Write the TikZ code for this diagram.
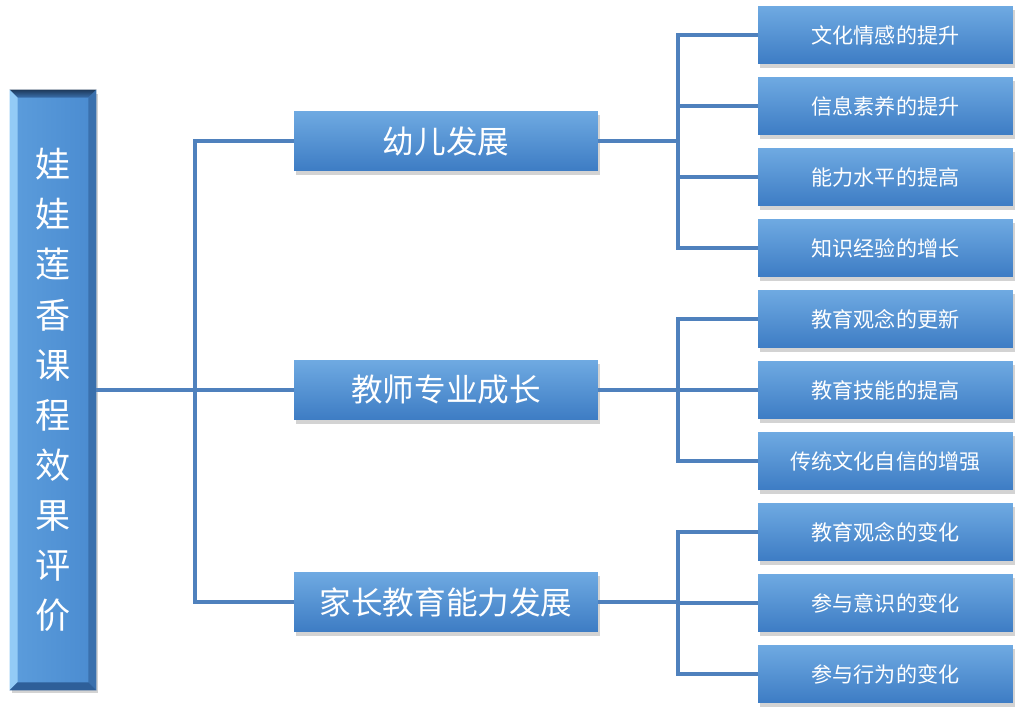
\documentclass[tikz,border=0pt]{standalone}
\usepackage{fontspec}
\newfontfamily\cjk{Noto Sans CJK SC}
\usetikzlibrary{positioning, calc, shadows}
\definecolor{BoxTop}{HTML}{6FAAE2}
\definecolor{BoxBottom}{HTML}{3D7CC4}
\definecolor{LinkBlue}{HTML}{4F81BD}
\definecolor{FaceLeft}{HTML}{5C9DDC}
\definecolor{FaceRight}{HTML}{4A8BD0}
\definecolor{BevelDark}{HTML}{1E3A5C}
\definecolor{BevelLight}{HTML}{93CBF6}
\definecolor{BevelSide}{HTML}{3A70AD}
\definecolor{BevelBottom}{HTML}{2E5F99}

\begin{document}
\begin{tikzpicture}[x=0.02cm, y=0.02cm,
  leafbox/.style={minimum width=5.1cm, minimum height=1.16cm, inner sep=0pt,
    top color=BoxTop, bottom color=BoxBottom, text=white,
    font=\cjk\fontsize{12}{14}\selectfont,
    drop shadow={shadow xshift=1pt, shadow yshift=-2pt, opacity=0.35}},
  midbox/.style={leafbox, minimum width=6.08cm, minimum height=1.2cm,
    font=\cjk\fontsize{18}{20}\selectfont},
  rootbox/.style={minimum width=1.72cm, minimum height=12cm, inner sep=0pt,
    left color=FaceLeft, right color=FaceRight, text=white, align=center,
    font=\cjk\fontsize{20}{28.5}\selectfont,
    drop shadow={shadow xshift=1pt, shadow yshift=-2pt, opacity=0.35}},
  link/.style={draw=LinkBlue, line width=2.2pt},
]
  \useasboundingbox (0,0) rectangle (1019,708);

  % x positions
  \def\xr{53}    % root
  \def\xm{446}   % middle column
  \def\xl{885.5} % leaves
  \def\bv{8}     % bevel width

  % Root
  \node[rootbox] (root) at (\xr, 318) {娃\\娃\\莲\\香\\课\\程\\效\\果\\评\\价};
  \shade[top color=BevelDark, bottom color=BevelSide]
    (root.north west) -- (root.north east) -- ($(root.north east)+(-\bv,-\bv)$)
    -- ($(root.north west)+(\bv,-\bv)$) -- cycle;
  \fill[BevelLight] (root.north west) -- ($(root.north west)+(\bv,-\bv)$)
    -- ($(root.south west)+(\bv,\bv)$) -- (root.south west) -- cycle;
  \fill[BevelSide] (root.north east) -- ($(root.north east)+(-\bv,-\bv)$)
    -- ($(root.south east)+(-\bv,\bv)$) -- (root.south east) -- cycle;
  \fill[BevelBottom] (root.south west) -- ($(root.south west)+(\bv,\bv)$)
    -- ($(root.south east)+(-\bv,\bv)$) -- (root.south east) -- cycle;

  % Middle column
  \node[midbox] (kid)    at (\xm, 567) {幼儿发展};
  \node[midbox] (teach)  at (\xm, 318) {教师专业成长};
  \node[midbox] (parent) at (\xm, 106) {家长教育能力发展};

  % Leaves
  \node[leafbox] (emo)   at (\xl, 673) {文化情感的提升};
  \node[leafbox] (info)  at (\xl, 602) {信息素养的提升};
  \node[leafbox] (abil)  at (\xl, 531) {能力水平的提高};
  \node[leafbox] (know)  at (\xl, 460) {知识经验的增长};
  \node[leafbox] (idea)  at (\xl, 389) {教育观念的更新};
  \node[leafbox] (skill) at (\xl, 318) {教育技能的提高};
  \node[leafbox] (trad)  at (\xl, 247) {传统文化自信的增强};
  \node[leafbox] (pidea) at (\xl, 176) {教育观念的变化};
  \node[leafbox] (aware) at (\xl, 105) {参与意识的变化};
  \node[leafbox] (act)   at (\xl, 34)  {参与行为的变化};

  % Connectors
  \coordinate (trunk) at (195, 318);
  \draw[link] (root.east) -- (trunk);
  \draw[link] (trunk) |- (kid.west);
  \draw[link] (trunk) -- (teach.west);
  \draw[link] (trunk) |- (parent.west);

  \coordinate (kidfork) at (678, 567);
  \draw[link] (kid.east) -- (kidfork);
  \foreach \n in {emo, info, abil, know}
    \draw[link] (kidfork) |- (\n.west);

  \coordinate (teachfork) at (678, 318);
  \draw[link] (teach.east) -- (teachfork);
  \foreach \n in {idea, skill, trad}
    \draw[link] (teachfork) |- (\n.west);

  \coordinate (parentfork) at (678, 106);
  \draw[link] (parent.east) -- (parentfork);
  \foreach \n in {pidea, aware, act}
    \draw[link] (parentfork) |- (\n.west);
\end{tikzpicture}
\end{document}
